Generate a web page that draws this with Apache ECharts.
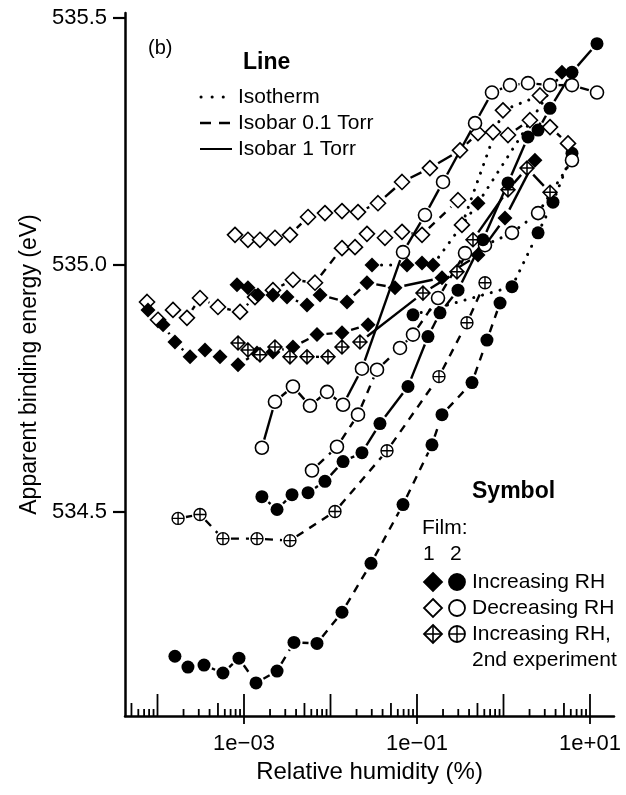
<!DOCTYPE html>
<html><head><meta charset="utf-8">
<script src="https://cdn.jsdelivr.net/npm/echarts@6/dist/echarts.min.js"></script>
<style>html,body{margin:0;padding:0;background:#fff}#c{width:626px;height:795px}</style>
</head><body><div id="c"></div>
<script>
// ---------- data (RH in %, binding energy in eV) ----------
// Film 2 (circles)
const c2IncSolidX = [0.00161,0.00241,0.00359,0.0055,0.00863,0.01397,0.0231,0.0373,0.0787,0.134,0.1845,0.298,0.579,1.127,1.92,2.51,3.45,6.19,12.05];
const c2IncSolidY = [534.531,534.505,534.535,534.539,534.562,534.602,534.620,534.679,534.754,534.855,534.903,534.949,535.051,535.166,535.259,535.273,535.317,535.390,535.448];
const c2IncDashX = [0.000159,0.000225,0.000345,0.000571,0.000875,0.001377,0.00241,0.00378,0.00698,0.01358,0.0294,0.0689,0.149,0.1945,0.4325,0.644,0.912];
const c2IncDashY = [534.208,534.186,534.190,534.174,534.204,534.154,534.178,534.236,534.234,534.297,534.396,534.515,534.636,534.697,534.762,534.848,534.923];
const c2DecSolidX = [0.00161,0.00228,0.00368,0.00579,0.00912,0.01397,0.0231,0.0689,0.1236,0.200,0.469,0.736,1.188,1.92,3.45,6.19,12.05];
const c2DecSolidY = [534.630,534.723,534.754,534.715,534.743,534.717,534.790,535.026,535.101,535.168,535.287,535.349,535.364,535.368,535.364,535.364,535.349];
const c2DecDashX = [0.00611,0.01188,0.0208,0.0345,0.0636,0.0899,0.175,0.359];
const c2DecDashY = [534.584,534.632,534.697,534.788,534.832,534.859,534.933,535.024];
const c2Inc2DashX = [0.000173,0.00031,0.000571,0.001413,0.0034,0.01127,0.045,0.1795,0.378,0.611];
const c2Inc2DashY = [534.487,534.495,534.446,534.446,534.442,534.501,534.624,534.774,534.883,534.964];
const c2IncIsoX = [0.0899,1.253,2.51,3.73,6.19];
const c2IncIsoY = [534.899,534.956,535.065,535.127,535.226];
const c2DecIsoX = [0.611,1.253,2.51,6.19];
const c2DecIsoY = [535.040,535.065,535.105,535.212];
// Film 1 (diamonds)
const d1IncSolidX = [0.00083,0.001111,0.00145,0.00216,0.00314,0.00535,0.00757,0.01552,0.0264,0.0557,0.1945,0.507,1.04,2.31];
const d1IncSolidY = [534.960,534.954,534.939,534.939,534.935,534.919,534.939,534.925,534.964,534.954,534.974,535.020,535.095,535.212];
const d1IncDashX = [0.0000776,0.000116,0.000159,0.000238,0.000354,0.000528,0.000853,0.001413,0.00216,0.00368,0.00698,0.01358,0.0272];
const d1IncDashY = [534.909,534.879,534.844,534.814,534.828,534.814,534.798,534.822,534.824,534.834,534.859,534.863,534.879];
const d1DecSolidX = [0.000787,0.001111,0.00153,0.00228,0.0034,0.0055,0.00863,0.01358,0.0208,0.0354,0.0671,0.141,0.314,0.507,0.757,1.127,2.02,3.45,5.57];
const d1DecSolidY = [535.061,535.051,535.051,535.055,535.061,535.097,535.105,535.109,535.107,535.125,535.168,535.196,535.232,535.267,535.269,535.263,535.293,535.279,535.246];
const d1DecDashX = [0.0000757,0.0001014,0.000151,0.000219,0.00031,0.0005,0.0009,0.00134,0.00216,0.00368,0.00662,0.01358,0.0192,0.0264,0.0426,0.0671,0.1143,0.298];
const d1DecDashY = [534.925,534.889,534.909,534.893,534.933,534.915,534.905,534.935,534.949,534.970,534.964,535.034,535.036,535.063,535.055,535.067,535.061,535.131];
const d1Inc2SolidX = [0.000853,0.001111,0.00153,0.00228,0.0034,0.00535,0.00935,0.01358,0.0219,0.1172,0.29,0.444,1.127,1.87,3.45];
const d1Inc2SolidY = [534.842,534.828,534.818,534.834,534.814,534.814,534.814,534.834,534.844,534.943,534.986,535.051,535.152,535.196,535.147];
const d1IncIsoX = [0.0302,0.0766,0.1143,0.153,0.507,4.74];
const d1IncIsoY = [535.000,535.000,535.004,535.000,535.125,535.390];
const d1DecIsoX = [0.331,0.986,2.64];
const d1DecIsoY = [535.081,535.313,535.343];

// axis ticks / labels
const yTickValues = [534.5, 535.0, 535.5];
const xDecades = [-5,-4,-3,-2,-1,0,1];
const xLabelDecades = [-3,-1,1];
const xMinorMultipliers = [2,3,4,5,6,7,8,9];

// ---------- layout ----------
const X_MIN = Math.pow(10, -4.3757), X_MAX = Math.pow(10, 1.2775);
const Y_MIN = 534.087, Y_MAX = 535.510;
const FONT = "'Liberation Sans', Arial, Helvetica, sans-serif";

const SYM_CROSS_DIAMOND = 'path://M10,0 L20,10 L10,20 L0,10 Z M10,0 L10,20 M0,10 L20,10';
const SYM_CROSS_CIRCLE = 'path://M0,10 A10,10 0 1,1 20,10 A10,10 0 1,1 0,10 Z M10,0 L10,20 M0,10 L20,10';

const STYLE = {
  fillDiamond: {symbol:'diamond', size:15, gap:9.5, item:{color:'#000', borderColor:'#000', borderWidth:0, opacity:1}},
  openDiamond: {symbol:'diamond', size:15, gap:9.5, item:{color:'#fff', borderColor:'#000', borderWidth:1.6, opacity:1}},
  crossDiamond:{symbol:SYM_CROSS_DIAMOND, size:14, gap:9, item:{color:'#fff', borderColor:'#000', borderWidth:1.5, opacity:1}},
  fillCircle:  {symbol:'circle', size:13, gap:8.5, item:{color:'#000', borderColor:'#000', borderWidth:0, opacity:1}},
  openCircle:  {symbol:'circle', size:13, gap:8.5, item:{color:'#fff', borderColor:'#000', borderWidth:1.6, opacity:1}},
  crossCircle: {symbol:SYM_CROSS_CIRCLE, size:12, gap:8, item:{color:'#fff', borderColor:'#000', borderWidth:1.4, opacity:1}}
};
const LINE = {
  solid:  {dash:null, width:2.4, cap:'butt'},
  dashed: {dash:[8,7], width:2.4, cap:'butt'},
  dotted: {dash:[0.1,9], width:3, cap:'round'}
};

const lineSeries = [], markSeries = [];
// R-style "b" plot: each segment between consecutive points is drawn separately,
// stopping short of the symbols; the dash pattern restarts on every segment.
function mk(name, xs, ys, st, ln){
  const s = STYLE[st], L = LINE[ln];
  const pts = xs.map((x,i)=>[x, ys[i]]);
  const segs = [];
  for (let i = 0; i < pts.length - 1; i++) segs.push([pts[i][0], pts[i][1], pts[i+1][0], pts[i+1][1]]);
  lineSeries.push({
    name: name + ' line', type:'custom', data: segs, silent:true, animation:false, z:2, clip:false,
    encode:{x:[0,2], y:[1,3]},
    renderItem(params, api){
      const p1 = api.coord([api.value(0), api.value(1)]);
      const p2 = api.coord([api.value(2), api.value(3)]);
      const dx = p2[0]-p1[0], dy = p2[1]-p1[1], len = Math.hypot(dx, dy);
      const g = s.gap;
      if (len <= 2*g + 1) return {type:'group', children:[]};
      const ux = dx/len, uy = dy/len;
      return {type:'line',
        shape:{x1:p1[0]+ux*g, y1:p1[1]+uy*g, x2:p2[0]-ux*g, y2:p2[1]-uy*g},
        style:{stroke:'#000', lineWidth:L.width, lineDash:L.dash, lineCap:L.cap, fill:null}};
    }
  });
  markSeries.push({
    name, type:'scatter', data: pts, symbol: s.symbol, symbolSize: s.size,
    itemStyle: s.item, emphasis:{disabled:true}, silent:true, animation:false, z:3
  });
}

mk('f1 inc iso', d1IncIsoX, d1IncIsoY, 'fillDiamond', 'dotted');
mk('f1 dec iso', d1DecIsoX, d1DecIsoY, 'openDiamond', 'dotted');
mk('f2 inc iso', c2IncIsoX, c2IncIsoY, 'fillCircle', 'dotted');
mk('f2 dec iso', c2DecIsoX, c2DecIsoY, 'openCircle', 'dotted');
mk('f1 dec 0.1', d1DecDashX, d1DecDashY, 'openDiamond', 'dashed');
mk('f1 inc 0.1', d1IncDashX, d1IncDashY, 'fillDiamond', 'dashed');
mk('f1 dec 1', d1DecSolidX, d1DecSolidY, 'openDiamond', 'solid');
mk('f1 inc 1', d1IncSolidX, d1IncSolidY, 'fillDiamond', 'solid');
mk('f1 inc2 1', d1Inc2SolidX, d1Inc2SolidY, 'crossDiamond', 'solid');
mk('f2 dec 0.1', c2DecDashX, c2DecDashY, 'openCircle', 'dashed');
mk('f2 inc2 0.1', c2Inc2DashX, c2Inc2DashY, 'crossCircle', 'dashed');
mk('f2 inc 0.1', c2IncDashX, c2IncDashY, 'fillCircle', 'dashed');
mk('f2 dec 1', c2DecSolidX, c2DecSolidY, 'openCircle', 'solid');
mk('f2 inc 1', c2IncSolidX, c2IncSolidY, 'fillCircle', 'solid');

const seriesList = lineSeries.concat(markSeries);

// x-axis tick marks (log minor ticks) through the axis scale
const tickData = [];
xDecades.forEach(e => {
  const base = Math.pow(10, e);
  tickData.push([base, xLabelDecades.indexOf(e) >= 0 ? 3 : 2]);
  xMinorMultipliers.forEach(m => tickData.push([m*base, m === 5 ? 1 : 0]));
});
const tickDataIn = tickData.filter(d => d[0] >= X_MIN && d[0] <= X_MAX);
seriesList.push({
  type:'custom', data: tickDataIn, clip:false, silent:true, animation:false, z:1,
  encode:{x:0},
  renderItem(params, api){
    const v = api.value(0), k = api.value(1);
    const p = api.coord([v, Y_MIN]);
    const up = [7, 13, 22, 22][k];
    const down = k === 3 ? 8 : 0;
    return {type:'line', shape:{x1:p[0], y1:p[1]+down, x2:p[0], y2:p[1]-up},
            style:{stroke:'#000', lineWidth:1.8}};
  }
});

function fmtExp(v){
  const l = Math.log10(v), e = Math.round(l);
  if (Math.abs(l - e) > 1e-6 || xLabelDecades.indexOf(e) < 0) return '';
  return '1e' + (e < 0 ? '\u2212' : '+') + String(Math.abs(e)).padStart(2, '0');
}

// ---------- legend graphics ----------
const G = [];
function txt(x, y, s, size, bold){
  G.push({type:'text', x, y, style:{text:s, x:0, y:0, fill:'#000', font:(bold?'bold ':'')+size+'px '+FONT, textAlign:'left', textVerticalAlign:'middle'}, z:10});
}
function seg(x1,y1,x2,y2,dash,w,cap){
  G.push({type:'line', shape:{x1,y1,x2,y2}, style:{stroke:'#000', lineWidth:w||2.4, lineDash:dash||null, lineCap: cap||'butt'}, z:10});
}
function diamond(cx, cy, r, fill, cross){
  G.push({type:'polygon', shape:{points:[[cx,cy-r],[cx+r,cy],[cx,cy+r],[cx-r,cy]]}, style:{fill: fill?'#000':'#fff', stroke:'#000', lineWidth:1.8}, z:10});
  if (cross){ seg(cx,cy-r,cx,cy+r,null,1.6); seg(cx-r,cy,cx+r,cy,null,1.6); }
}
function circ(cx, cy, r, fill, cross){
  G.push({type:'circle', shape:{cx,cy,r}, style:{fill: fill?'#000':'#fff', stroke:'#000', lineWidth:1.8}, z:10});
  if (cross){ seg(cx,cy-r,cx,cy+r,null,1.5); seg(cx-r,cy,cx+r,cy,null,1.5); }
}
txt(148, 48, '(b)', 20, false);
txt(243, 63, 'Line', 23, true);
seg(201, 97, 226, 97, [0.1,11], 3, 'round'); txt(238, 97, 'Isotherm', 21, false);
seg(200, 123, 232, 123, [11,8], 2.6); txt(238, 123, 'Isobar 0.1 Torr', 21, false);
seg(200, 149, 232, 149, null, 2.0); txt(238, 149, 'Isobar 1 Torr', 21, false);

txt(472, 492, 'Symbol', 23, true);
txt(422, 528, 'Film:', 21, false);
txt(423, 554, '1', 21, false); txt(450, 554, '2', 21, false);
diamond(433, 582, 9, true, false); circ(457, 582, 8, true, false); txt(472, 582, 'Increasing RH', 21, false);
diamond(433, 608, 9, false, false); circ(457, 608, 8, false, false); txt(472, 608, 'Decreasing RH', 21, false);
diamond(433, 634, 9, false, true); circ(457, 634, 8, false, true); txt(472, 634, 'Increasing RH,', 21, false);
txt(472, 660, '2nd experiment', 21, false);

const chart = echarts.init(document.getElementById('c'), null, {renderer:'canvas'});
chart.setOption({
  animation:false,
  backgroundColor:'#fff',
  grid:{left:125, right:12, top:13, bottom:79, containLabel:false},
  xAxis:{
    type:'log', logBase:10, min:X_MIN, max:X_MAX,
    name:'Relative humidity (%)', nameLocation:'middle', nameGap:40,
    nameTextStyle:{fontSize:24, fontFamily:FONT, color:'#000'},
    axisLine:{show:true, onZero:false, lineStyle:{color:'#000', width:2.5}},
    axisTick:{show:false},
    splitLine:{show:false}, minorTick:{show:false},
    axisLabel:{formatter:fmtExp, margin:17, fontSize:22, fontFamily:FONT, color:'#000', showMinLabel:false, showMaxLabel:false, hideOverlap:false}
  },
  yAxis:{
    type:'value', min:Y_MIN, max:Y_MAX,
    name:'Apparent binding energy (eV)', nameLocation:'middle', nameGap:84, nameRotate:90,
    nameTextStyle:{fontSize:23, fontFamily:FONT, color:'#000'},
    axisLine:{show:true, onZero:false, lineStyle:{color:'#000', width:2.5}},
    axisTick:{show:true, customValues:yTickValues, length:12, lineStyle:{color:'#000', width:2.2}},
    splitLine:{show:false},
    axisLabel:{customValues:yTickValues, formatter:v => v.toFixed(1), margin:18, fontSize:22, fontFamily:FONT, color:'#000'}
  },
  series: seriesList,
  graphic: G
});
</script>
</body></html>
